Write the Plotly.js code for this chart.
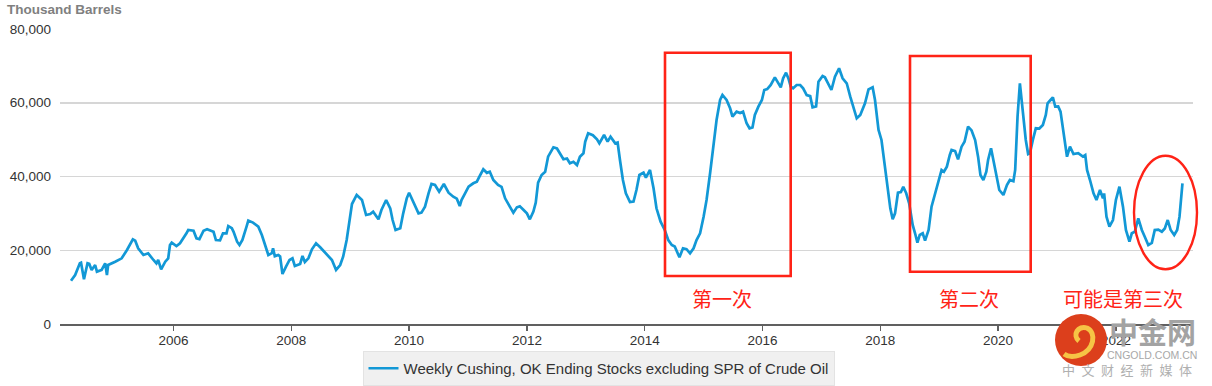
<!DOCTYPE html>
<html>
<head>
<meta charset="utf-8">
<script src="https://cdn.plot.ly/plotly-3.0.1.min.js"></script>
<style>
  html, body { margin: 0; padding: 0; background: #fff; }
  #chart { width: 1212px; height: 386px; }
</style>
</head>
<body>
<div id="chart"></div>
<script>
// ---- Data (decimal years, thousand barrels) ----
const years = [
  2004.26,2004.33,2004.41,2004.43,2004.48,2004.54,2004.57,2004.61,2004.67,2004.70,
  2004.78,2004.84,2004.87,2004.89,2005.01,2005.06,2005.12,2005.21,2005.31,2005.35,
  2005.40,2005.49,2005.57,2005.66,2005.71,2005.74,2005.79,2005.86,2005.91,2005.94,
  2005.97,2006.05,2006.11,2006.22,2006.25,2006.34,2006.39,2006.44,2006.51,2006.57,
  2006.65,2006.68,2006.72,2006.79,2006.84,2006.90,2006.93,2006.99,2007.02,2007.08,
  2007.12,2007.17,2007.24,2007.27,2007.35,2007.44,2007.50,2007.55,2007.61,2007.67,
  2007.69,2007.72,2007.78,2007.81,2007.85,2007.91,2007.97,2008.02,2008.06,2008.15,
  2008.19,2008.23,2008.29,2008.35,2008.42,2008.49,2008.57,2008.63,2008.69,2008.76,
  2008.83,2008.88,2008.94,2008.99,2009.03,2009.11,2009.20,2009.27,2009.34,2009.39,
  2009.48,2009.53,2009.61,2009.68,2009.72,2009.77,2009.85,2009.90,2009.96,2010.00,
  2010.07,2010.16,2010.21,2010.27,2010.33,2010.38,2010.44,2010.51,2010.59,2010.67,
  2010.75,2010.81,2010.86,2010.89,2010.95,2011.01,2011.09,2011.15,2011.20,2011.26,
  2011.32,2011.37,2011.43,2011.51,2011.57,2011.63,2011.71,2011.77,2011.83,2011.88,
  2011.94,2012.00,2012.05,2012.11,2012.15,2012.19,2012.25,2012.31,2012.36,2012.45,
  2012.51,2012.56,2012.62,2012.68,2012.73,2012.79,2012.85,2012.90,2012.96,2012.99,
  2013.04,2013.12,2013.19,2013.23,2013.27,2013.31,2013.37,2013.42,2013.50,2013.54,
  2013.58,2013.63,2013.68,2013.75,2013.81,2013.86,2013.91,2013.98,2014.02,2014.09,
  2014.15,2014.20,2014.27,2014.34,2014.40,2014.46,2014.51,2014.59,2014.65,2014.71,
  2014.77,2014.83,2014.88,2014.94,2015.00,2015.05,2015.11,2015.17,2015.22,2015.28,
  2015.32,2015.39,2015.45,2015.49,2015.56,2015.62,2015.67,2015.73,2015.78,2015.83,
  2015.87,2015.93,2015.99,2016.03,2016.08,2016.14,2016.21,2016.25,2016.31,2016.35,
  2016.40,2016.44,2016.48,2016.52,2016.58,2016.64,2016.69,2016.75,2016.81,2016.85,
  2016.91,2016.95,2017.02,2017.06,2017.12,2017.17,2017.23,2017.30,2017.36,2017.43,
  2017.49,2017.54,2017.60,2017.66,2017.74,2017.80,2017.87,2017.91,2017.97,2018.02,
  2018.08,2018.12,2018.17,2018.21,2018.25,2018.30,2018.35,2018.39,2018.44,2018.49,
  2018.55,2018.59,2018.63,2018.67,2018.72,2018.76,2018.82,2018.87,2018.93,2018.99,
  2019.04,2019.08,2019.13,2019.18,2019.21,2019.27,2019.32,2019.38,2019.43,2019.49,
  2019.55,2019.61,2019.66,2019.70,2019.75,2019.80,2019.83,2019.88,2019.93,2019.98,
  2020.02,2020.09,2020.15,2020.20,2020.26,2020.29,2020.33,2020.37,2020.42,2020.47,
  2020.51,2020.54,2020.59,2020.64,2020.70,2020.76,2020.81,2020.84,2020.89,2020.93,
  2020.97,2021.02,2021.06,2021.11,2021.17,2021.22,2021.28,2021.36,2021.44,2021.48,
  2021.51,2021.56,2021.62,2021.67,2021.73,2021.78,2021.80,2021.84,2021.89,2021.95,
  2022.00,2022.06,2022.12,2022.17,2022.23,2022.27,2022.32,2022.38,2022.44,2022.49,
  2022.55,2022.61,2022.66,2022.72,2022.78,2022.83,2022.88,2022.93,2022.99,2023.04,
  2023.08,2023.13
];
const stocks = [
  11740,13290,16460,16600,12120,16460,16300,14650,16000,14200,
  14650,16460,13290,16000,16900,17300,17810,20070,22960,22600,
  20530,18710,19170,17360,16460,17360,14830,16900,17810,21420,
  22050,21150,21880,24600,25490,25300,23240,23000,25300,25680,
  25300,25000,22780,22700,24600,24600,26580,26000,25000,22320,
  21420,22800,26390,28020,27500,26390,24140,21880,18710,19200,
  20530,18400,18710,18300,13560,15540,17360,17810,15730,16300,
  18440,16800,17800,20250,21880,20800,19500,18440,17360,14650,
  16000,18250,22780,28200,32540,34990,33630,29560,29800,30460,
  28390,30920,33630,31370,28200,25490,25950,30010,34080,35610,
  33180,30010,30200,31820,35440,37970,37700,35890,37970,35610,
  34530,34000,32000,33600,35440,37240,38160,38600,40140,41950,
  41000,41300,39050,37700,37200,34080,31820,30190,31640,31900,
  31000,30010,28390,30500,32900,38340,40410,41300,45370,47920,
  47600,46290,44670,44900,43580,44000,43120,45370,46300,49440,
  51720,51200,50080,49000,50000,51260,49440,50800,49000,49200,
  44480,39050,35440,33090,33200,36340,40410,41030,39700,41770,
  36800,31370,27740,25490,22780,21420,21000,18080,20530,20300,
  19170,20530,22780,24600,29100,33630,40870,48550,55330,60750,
  62100,60750,58500,56220,57580,57200,57580,54430,53070,53300,
  56680,58940,60750,63460,63700,64820,66900,65800,64190,66630,
  68150,66600,64370,63920,64820,64820,63920,62100,61800,58760,
  59000,65720,67260,66900,64820,63460,67070,69350,66630,65280,
  61650,58940,55790,56680,59850,63640,64190,60750,52610,49900,
  42660,36800,31370,28390,30010,35610,35800,37240,35440,32730,
  26850,24600,22050,24140,24600,22590,25490,31820,35440,39510,
  41770,41300,42660,45830,47190,46900,44670,48090,49440,53510,
  52500,49900,45370,40410,39050,41300,44480,47650,43580,40410,
  36340,34990,37700,39050,38700,41770,56220,65280,58040,49900,
  46100,46300,49900,53070,53000,53970,56680,59850,60750,61480,
  58940,59000,57580,51720,45370,48090,46100,46300,45370,45800,
  41770,39050,35440,33630,36340,34080,35400,29100,26390,28200,
  33630,37240,31820,25490,22320,24600,25000,28660,25490,23680,
  21420,22000,25490,25600,25030,25900,28200,25490,24140,25490,
  29100,38160
];
const seriesName = 'Weekly Cushing, OK Ending Stocks excluding SPR of Crude Oil';
const xTickYears = [2006, 2008, 2010, 2012, 2014, 2016, 2018, 2020, 2022];
const xTickLabels = ['2006', '2008', '2010', '2012', '2014', '2016', '2018', '2020', '2022'];
const yTickValues = [0, 20000, 40000, 60000, 80000];
const annotationLabels = ['第一次', '第二次', '可能是第三次'];

// ---- pixel -> paper helpers for decorations (plot area 60..1193 x 29..324) ----
const W = 1212, H = 386;
const L = 60, R = 1193, T = 29, B = 324;
const PX = x => (x - L) / (R - L);
const PY = y => (B - y) / (B - T);
const path = pts => pts.map(p => (p[0] + ' ' + PX(p[1]).toFixed(5) + ',' + PY(p[2]).toFixed(5))).join(' ');

const red = '#ff2317';
const CJK = '"Noto Sans CJK SC", "Noto Sans", sans-serif';
const note = (text, x, y, font) => ({
  text, xref: 'paper', yref: 'paper', x: PX(x), y: PY(y),
  xanchor: 'center', yanchor: 'middle', showarrow: false, font
});

const trace = {
  x: years, y: stocks, type: 'scatter', mode: 'lines', name: seriesName,
  line: { color: '#1298d6', width: 2.7 }, hoverinfo: 'x+y'
};

const layout = {
  width: W, height: H,
  margin: { l: L, r: W - R, t: T, b: H - B, autoexpand: false },
  paper_bgcolor: '#ffffff', plot_bgcolor: '#ffffff',
  font: { family: '"Liberation Sans", Arial, sans-serif', color: '#333333' },
  title: {
    text: '<b>Thousand Barrels</b>',
    font: { size: 13.5, color: '#808080', family: '"Liberation Sans", Arial, sans-serif' },
    xref: 'container', x: 7 / W, xanchor: 'left',
    yref: 'container', y: 1 - 9 / H, yanchor: 'middle'
  },
  showlegend: true,
  legend: {
    orientation: 'h', xref: 'container', x: 598.5 / W, xanchor: 'center',
    yref: 'container', y: 1 - 351 / H, yanchor: 'top',
    bgcolor: '#f0f0f0', bordercolor: '#e3e3e3', borderwidth: 1,
    font: { size: 15, color: '#333333' }
  },
  xaxis: {
    type: 'linear', range: [2004.073, 2023.309],
    tickvals: xTickYears, ticktext: xTickLabels,
    showgrid: false, zeroline: false, automargin: false,
    showline: true, linecolor: '#606060', linewidth: 2,
    ticks: 'outside', ticklen: 5, tickwidth: 1.5, tickcolor: '#606060',
    tickfont: { size: 13.5, color: '#333333' }, ticklabelstandoff: -2
  },
  yaxis: {
    range: [0, 80000], tickvals: yTickValues, tickformat: ',d',
    showgrid: true, gridcolor: '#d6d6d6', gridwidth: 1.5, automargin: false,
    zeroline: false, showline: false, ticks: '',
    tickfont: { size: 13.5, color: '#333333' }, ticklabelstandoff: 8
  },
  shapes: [
    { type: 'rect', xref: 'paper', yref: 'paper', x0: PX(665), x1: PX(790.7), y0: PY(276), y1: PY(52.7),
      line: { color: red, width: 2.6 } },
    { type: 'rect', xref: 'paper', yref: 'paper', x0: PX(910), x1: PX(1030.7), y0: PY(271.7), y1: PY(56),
      line: { color: red, width: 2.6 } },
    { type: 'circle', xref: 'paper', yref: 'paper', x0: PX(1134), x1: PX(1197), y0: PY(269.3), y1: PY(155.7),
      line: { color: red, width: 2.4 } },
    // watermark logo
    { type: 'circle', xref: 'paper', yref: 'paper', x0: PX(1055), x1: PX(1107), y0: PY(366), y1: PY(314),
      fillcolor: '#dc3f1c', line: { width: 0 } },
    { type: 'path', xref: 'paper', yref: 'paper',
      path: path([['M',1079,341],['C',1072,335],['',1078,325],['',1087,328],['C',1097,333],['',1094,350],['',1080,355],['C',1074,357],['',1068,357],['',1064,354]]),
      line: { color: '#f6c445', width: 5 } }
  ],
  annotations: [
    note(annotationLabels[0], 721.7, 298, { family: CJK, size: 20, color: red }),
    note(annotationLabels[1], 969, 298, { family: CJK, size: 20, color: red }),
    note(annotationLabels[2], 1122.7, 298, { family: CJK, size: 20, color: red }),
    note('<b>中金网</b>', 1152, 331, { family: CJK, size: 29, color: '#a3a3a3' }),
    note('CNGOLD.COM.CN', 1152, 355, { family: '"Liberation Sans", Arial, sans-serif', size: 10.5, color: '#a8a8a8' }),
    note('中\u2002文\u2002财\u2002经\u2002新\u2002媒\u2002体', 1127, 369, { family: CJK, size: 13, color: '#b0b0b0' })
  ]
};

Plotly.newPlot('chart', [trace], layout, { displayModeBar: false, staticPlot: true });
</script>
</body>
</html>
